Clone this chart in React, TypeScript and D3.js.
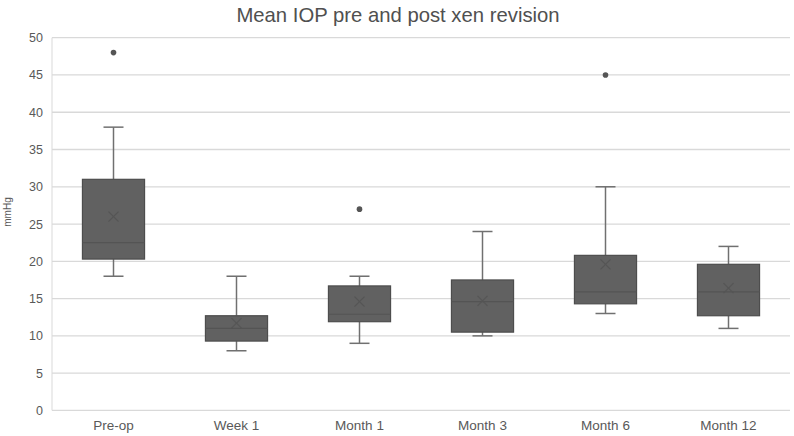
import React from "react";
import * as d3 from "d3";

const categories = ["Pre-op", "Week 1", "Month 1", "Month 3", "Month 6", "Month 12"];
const whiskerLow = [18, 8, 9, 10, 13, 11];
const q1 = [20.3, 9.3, 11.9, 10.5, 14.3, 12.7];
const median = [22.5, 11, 12.9, 14.6, 15.9, 15.9];
const q3 = [31, 12.7, 16.7, 17.5, 20.8, 19.6];
const whiskerHigh = [38, 18, 18, 24, 30, 22];
const means = [26.0, 11.7, 14.6, 14.7, 19.6, 16.4];
const outliers: [string, number][] = [["Pre-op", 48], ["Month 1", 27], ["Month 6", 45]];
const yTicks = [0, 5, 10, 15, 20, 25, 30, 35, 40, 45, 50];

const W = 794, H = 436;
const left = 52, right = 790, top = 37.7, bottom = 410.4;

export default function App() {
  const x = d3.scaleBand<string>().domain(categories).range([left, right]).paddingInner(0).paddingOuter(0);
  const y = d3.scaleLinear().domain([0, 50]).range([bottom, top]);
  const bw = x.bandwidth() * 0.505;
  const cap = 20;
  const font = "'Liberation Sans', Arial, sans-serif";
  return (
    <svg width={W} height={H} style={{ position: "absolute", left: 0, top: 0, background: "#fff" }}>
      <text x={398} y={21.5} textAnchor="middle" fontFamily={font} fontSize={20.3} fill="#505050">
        Mean IOP pre and post xen revision
      </text>
      {yTicks.map((t) => (
        <g key={t}>
          <line x1={left} x2={right} y1={y(t)} y2={y(t)} stroke="#d9d9d9" strokeWidth={1.3} />
          <text x={43} y={y(t) + 4.5} textAnchor="end" fontFamily={font} fontSize={12.5} fill="#595959">{t}</text>
        </g>
      ))}
      <line x1={left} x2={left} y1={top} y2={bottom} stroke="#d9d9d9" strokeWidth={1} />
      <text transform={`translate(11,${212}) rotate(-90)`} textAnchor="middle" fontFamily={font} fontSize={10} fill="#595959">mmHg</text>
      {categories.map((c, i) => {
        const cx = (x(c) as number) + x.bandwidth() / 2;
        return (
          <g key={c}>
            <line x1={cx} x2={cx} y1={y(whiskerHigh[i])} y2={y(q3[i])} stroke="#707070" strokeWidth={1.5} />
            <line x1={cx} x2={cx} y1={y(q1[i])} y2={y(whiskerLow[i])} stroke="#707070" strokeWidth={1.5} />
            <line x1={cx - cap / 2} x2={cx + cap / 2} y1={y(whiskerHigh[i])} y2={y(whiskerHigh[i])} stroke="#707070" strokeWidth={1.5} />
            <line x1={cx - cap / 2} x2={cx + cap / 2} y1={y(whiskerLow[i])} y2={y(whiskerLow[i])} stroke="#707070" strokeWidth={1.5} />
            <rect x={cx - bw / 2} y={y(q3[i])} width={bw} height={y(q1[i]) - y(q3[i])} fill="#616161" stroke="#4d4d4d" strokeWidth={1.2} />
            <line x1={cx - bw / 2} x2={cx + bw / 2} y1={y(median[i])} y2={y(median[i])} stroke="#545454" strokeWidth={1.2} />
            <path d={`M${cx - 5},${y(means[i]) - 5}L${cx + 5},${y(means[i]) + 5}M${cx - 5},${y(means[i]) + 5}L${cx + 5},${y(means[i]) - 5}`} stroke="#555" strokeWidth={1.2} />
            <text x={cx} y={430} textAnchor="middle" fontFamily={font} fontSize={13.5} fill="#595959">{c}</text>
          </g>
        );
      })}
      {outliers.map(([c, v], i) => (
        <circle key={i} cx={(x(c) as number) + x.bandwidth() / 2} cy={y(v)} r={2.8} fill="#555" />
      ))}
    </svg>
  );
}
